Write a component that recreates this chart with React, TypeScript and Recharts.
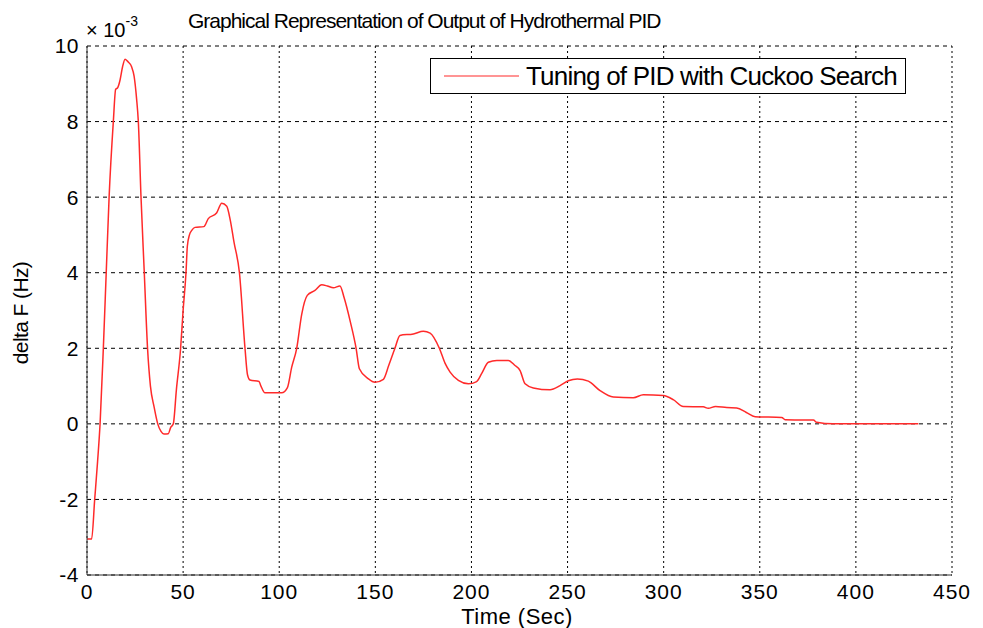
import React from "react";
import { LineChart, Line, XAxis, YAxis, CartesianGrid } from "recharts";

const TITLE = "Graphical Representation of Output of Hydrothermal PID";
const SERIES_NAME = "Tuning of PID with Cuckoo Search";
const X_LABEL = "Time (Sec)";
const Y_LABEL = "delta F (Hz)";

const xTicks = [0, 50, 100, 150, 200, 250, 300, 350, 400, 450];
const yTicks = [-4, -2, 0, 2, 4, 6, 8, 10];

// time (s)
const time = [
  0, 2.4, 4, 5.5, 6.8, 8.5, 10, 11.5, 13.7, 14.9, 16, 17.2, 18.5, 19.8, 21, 23.2, 24.5, 25.8, 26.7, 28.1,
  29.8, 31.5, 33, 34.9, 36.8, 38.5, 40, 42.3, 43.5, 44.9, 46.5, 48.7, 50, 51.5, 52.2, 53.3, 54.5, 56.2,
  60.8, 63.1, 67.4, 70.1, 72.7, 74.5, 76.5, 79.3, 82.2, 83.5, 84.8, 89.5, 90.5, 92.6, 101.3, 104.2, 106.5,
  109.1, 111.7, 114.6, 118.6, 122.1, 125, 128.2, 131.6, 133.7, 137, 140, 141.7, 146.4, 149.8, 154.2, 157,
  160.2, 162.8, 169.8, 175, 178.5, 183.3, 186.3, 188.9, 193.2, 198.4, 202.7, 205.5, 208.8, 213.2, 219.2,
  222.5, 225.3, 227.9, 232.2, 240.9, 246.1, 250.4, 255.1, 260.8, 266.9, 273.8, 284.2, 289.4, 299.8, 305,
  310.2, 320.6, 323.2, 327, 332.8, 338, 343, 347.6, 361.4, 363.2, 377.9, 379.6, 388, 432.5,
];

// delta F (x 10^-3 Hz)
const deltaF = [
  -3.05, -3.05, -2.0, -1.0, 0, 2.0, 4.0, 6.0, 8.0, 8.85, 8.9, 9.1, 9.45, 9.65, 9.6, 9.45, 9.2, 8.6, 8.0, 6.0,
  4.0, 2.0, 1.0, 0.45, 0.0, -0.2, -0.27, -0.26, -0.1, 0.0, 0.9, 2.0, 3.0, 4.0, 4.7, 5.0, 5.12, 5.2,
  5.22, 5.43, 5.58, 5.84, 5.76, 5.4, 4.8, 4.0, 2.0, 1.3, 1.16, 1.12, 1.0, 0.82, 0.82, 0.95, 1.5,
  2.0, 2.9, 3.4, 3.53, 3.68, 3.65, 3.6, 3.65, 3.35, 2.7, 2.0, 1.46, 1.19, 1.1, 1.18, 1.55,
  2.0, 2.34, 2.38, 2.45, 2.4, 2.0, 1.6, 1.37, 1.15, 1.06, 1.12, 1.35, 1.63, 1.68, 1.68,
  1.55, 1.41, 1.06, 0.95, 0.9, 1.01, 1.14, 1.19, 1.13, 0.88, 0.71, 0.69, 0.77, 0.75, 0.64,
  0.46, 0.45, 0.41, 0.46, 0.43, 0.42, 0.3, 0.19, 0.17, 0.11, 0.1, 0.04, 0.0, 0.0,
];

const data = time.map((t, i) => ({ t, v: deltaF[i] }));

const FONT = '"Liberation Sans", Arial, sans-serif';
const LINE_COLOR = "#ff2a2a";

export default function App() {
  return (
    <div style={{ position: "absolute", left: 0, top: 0, width: 983, height: 628, background: "#fff", fontFamily: FONT }}>
      <LineChart
        width={983}
        height={628}
        data={data}
        margin={{ top: 46, right: 31, bottom: 0, left: 0 }}
      >
        <CartesianGrid horizontal={true} vertical={false} stroke="#000" strokeDasharray="4 4" strokeWidth={1} />
        <CartesianGrid horizontal={false} vertical={true} stroke="#000" strokeDasharray="2 3" strokeWidth={1} />
        <XAxis
          dataKey="t"
          type="number"
          domain={[0, 450]}
          ticks={xTicks}
          interval={0}
          height={53}
          axisLine={{ stroke: "#333" }}
          tickLine={false}
          tickMargin={3}
          tick={{ fill: "#000", fontSize: 21, letterSpacing: 1 }}
          allowDataOverflow
        />
        <XAxis
          xAxisId="top"
          orientation="top"
          dataKey="t"
          type="number"
          domain={[0, 450]}
          ticks={xTicks}
          height={0}
          axisLine={{ stroke: "#333" }}
          tickLine={false}
          tick={false}
        />
        <YAxis
          type="number"
          domain={[-4, 10]}
          ticks={yTicks}
          interval={0}
          width={87}
          axisLine={{ stroke: "#333" }}
          tickLine={false}
          tickMargin={2}
          tick={{ fill: "#000", fontSize: 21, letterSpacing: 0.5 }}
          allowDataOverflow
        />
        <YAxis
          yAxisId="right"
          orientation="right"
          type="number"
          domain={[-4, 10]}
          ticks={yTicks}
          width={0}
          axisLine={{ stroke: "#333" }}
          tickLine={false}
          tick={false}
        />
        <Line
          type="monotone"
          dataKey="v"
          name={SERIES_NAME}
          stroke={LINE_COLOR}
          strokeWidth={1.5}
          dot={false}
          activeDot={false}
          isAnimationActive={false}
        />
      </LineChart>
      <div
        style={{
          position: "absolute",
          left: 430,
          top: 58,
          width: 476,
          height: 36,
          border: "1px solid #000",
          background: "#fff",
          display: "flex",
          alignItems: "center",
          boxSizing: "border-box",
        }}
      >
        <svg width={90} height={20} style={{ flex: "none" }}>
          <line x1={13} y1={10} x2={88} y2={10} stroke={LINE_COLOR} strokeWidth={1.2} />
        </svg>
        <span style={{ fontSize: 26, letterSpacing: -0.8, color: "#000", whiteSpace: "nowrap", marginLeft: 5 }}>
          {SERIES_NAME}
        </span>
      </div>
      <div
        style={{
          position: "absolute",
          left: 188,
          top: 9,
          fontSize: 21,
          letterSpacing: -1,
          color: "#000",
          whiteSpace: "nowrap",
        }}
      >
        {TITLE}
      </div>
      <div style={{ position: "absolute", left: 86, top: 16, fontSize: 20, color: "#000", whiteSpace: "nowrap" }}>
        × 10<sup style={{ fontSize: 14, position: "relative", top: -3 }}>-3</sup>
      </div>
      <div
        style={{
          position: "absolute",
          left: 517,
          top: 617,
          fontSize: 22,
          letterSpacing: 0.5,
          color: "#000",
          whiteSpace: "nowrap",
          transform: "translate(-50%, -50%)",
        }}
      >
        {X_LABEL}
      </div>
      <div
        style={{
          position: "absolute",
          left: 21,
          top: 313,
          fontSize: 21,
          letterSpacing: -0.6,
          color: "#000",
          whiteSpace: "nowrap",
          transform: "translate(-50%, -50%) rotate(-90deg)",
        }}
      >
        {Y_LABEL}
      </div>
    </div>
  );
}
